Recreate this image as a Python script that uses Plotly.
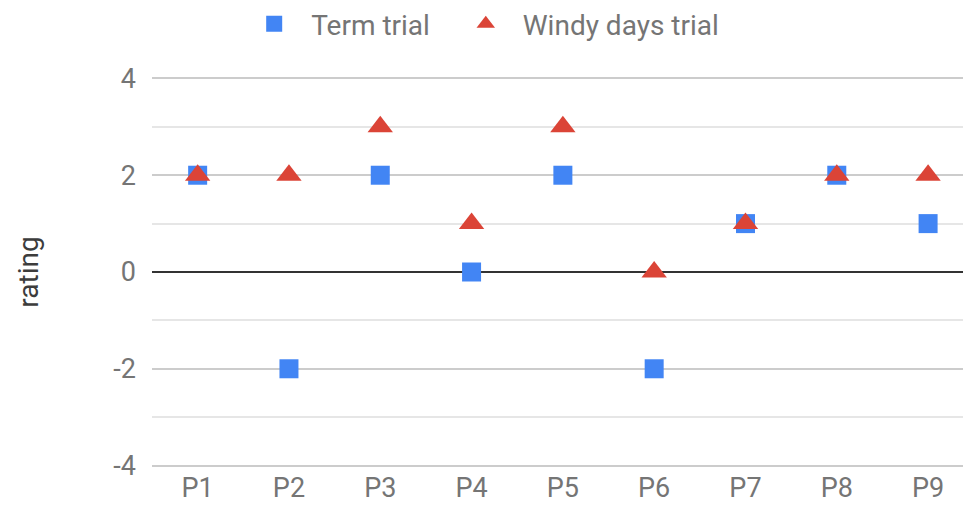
import plotly.graph_objects as go

categories = ["P1", "P2", "P3", "P4", "P5", "P6", "P7", "P8", "P9"]
term_trial = [2, -2, 2, 0, 2, -2, 1, 2, 1]
windy_trial = [2, 2, 3, 1, 3, 0, 1, 2, 2]
y_ticks = [-4, -2, 0, 2, 4]
y_tick_labels = ["-4", "-2", "0", "2", "4"]

fig = go.Figure()
fig.add_trace(go.Scatter(
    x=categories, y=term_trial, mode="markers", name="Term trial\u00a0\u00a0",
    marker=dict(symbol="square", size=19, color="#4285F4", line=dict(width=0)),
))
fig.add_trace(go.Scatter(
    x=categories, y=windy_trial, mode="markers", name="Windy days trial",
    marker=dict(symbol="triangle-up", size=22, color="#DB4437", line=dict(width=0)),
))

# page body has an 8px default margin; figure sized to fill the rest of the window
fig.update_layout(
    width=963, height=501,
    margin=dict(l=144, r=0, t=69, b=42),
    paper_bgcolor="white", plot_bgcolor="white",
    font=dict(family="Roboto", size=27, color="#757575"),
    showlegend=True,
    legend=dict(orientation="h", xref="container", x=0.238, xanchor="left",
                yref="container", y=0.968, yanchor="middle",
                font=dict(size=28, color="#757575"),
                itemsizing="trace", itemwidth=64),
    xaxis=dict(type="category", range=[-0.5, 8.47], showgrid=False, automargin=False,
               showline=False, ticks="", tickfont=dict(size=27, color="#757575"),
               ticklabelstandoff=2),
    yaxis=dict(range=[-4.03, 4.03], tickvals=y_ticks, ticktext=y_tick_labels, showgrid=True,
               automargin=False,
               gridcolor="#CCCCCC", gridwidth=1.5,
               zeroline=True, zerolinecolor="#333333", zerolinewidth=2,
               minor=dict(dtick=1, showgrid=True, gridcolor="#E6E6E6", gridwidth=1.5),
               ticks="", tickfont=dict(size=27, color="#757575"),
               ticklabelstandoff=15,
               title=dict(text="rating", font=dict(size=28, color="#3c3c3c"), standoff=66)),
)

fig.write_html("out.html")
